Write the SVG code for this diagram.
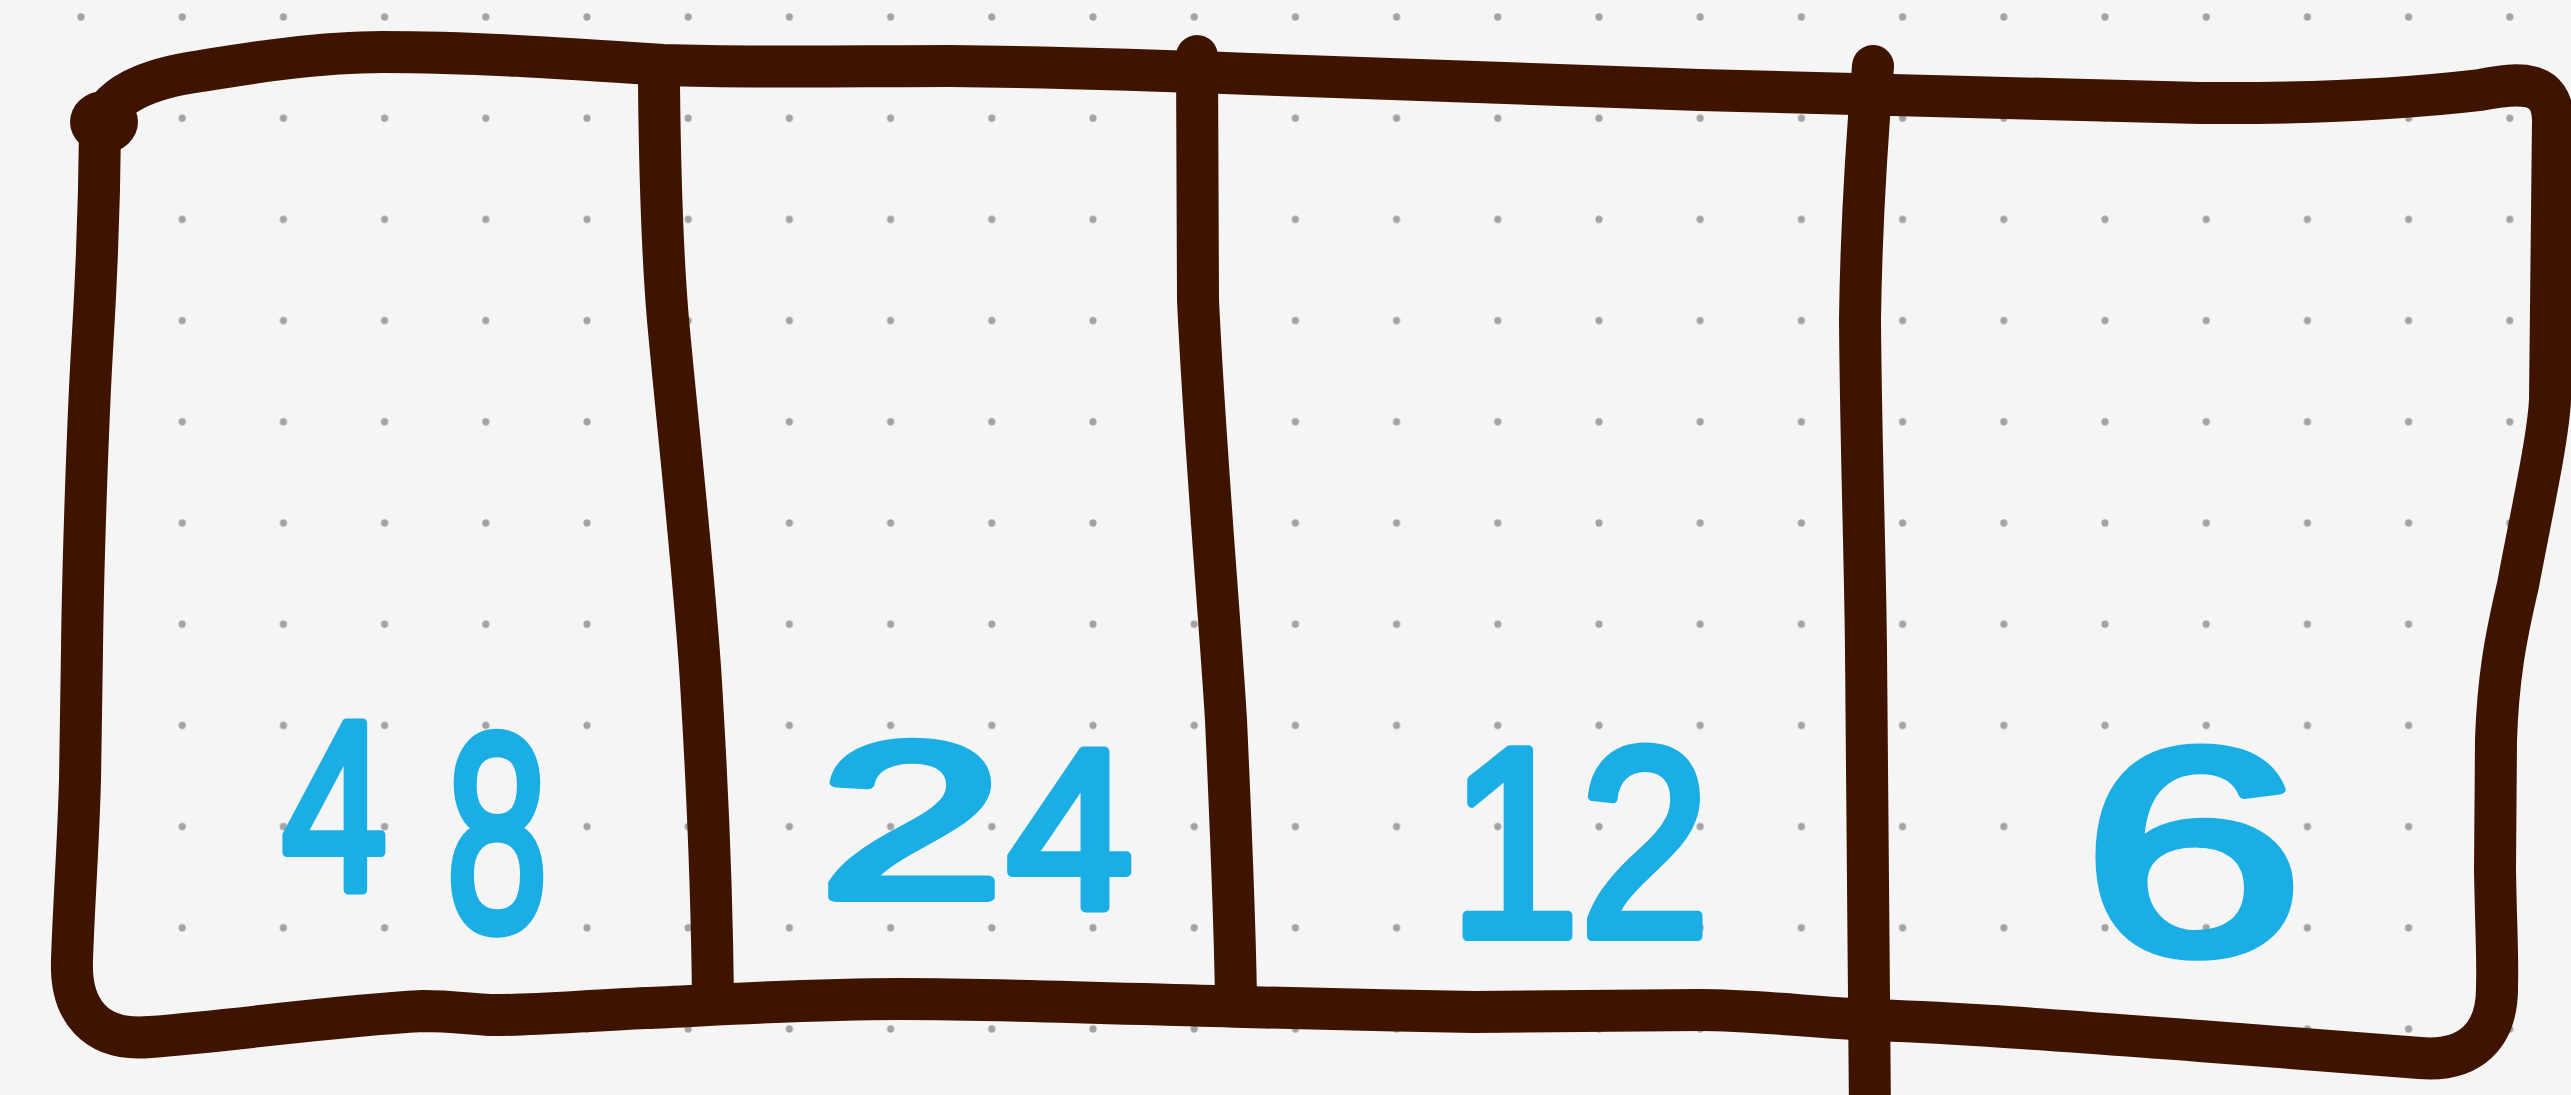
<svg xmlns="http://www.w3.org/2000/svg" width="2571" height="1095" viewBox="0 0 2571 1095">
  <defs>
    <pattern id="dots" patternUnits="userSpaceOnUse" x="30.4" y="-33.6" width="101.2" height="101.2">
      <circle cx="50.6" cy="50.6" r="3.6" fill="#a3a3a3"/>
    </pattern>
    <style>
      .ink { fill: none; stroke: #3e1300; stroke-width: 42px; stroke-linecap: round; stroke-linejoin: round; }
      .num { font-family: "Liberation Sans", Arial, sans-serif; fill: #1aaee5; stroke: #1aaee5; stroke-width: 10px; stroke-linejoin: round; }
    </style>
  </defs>

  <rect x="0" y="0" width="2571" height="1095" fill="#f5f5f5"/>
  <rect id="grid" x="0" y="0" width="2571" height="1095" fill="url(#dots)"/>

  <g id="outline">
    <path class="ink" d="M 100 130
      C 105 95, 150 78, 201 71
      C 250 63, 320 52, 383 52
      C 470 52, 560 58, 663 65
      C 760 68, 850 66, 950 66
      C 1050 67, 1150 70, 1250 74
      C 1350 78, 1500 84, 1700 90
      C 1850 93, 2050 100, 2200 103
      C 2330 104, 2420 97, 2480 90
      C 2520 82, 2552 80, 2553 120
      L 2550 400
      C 2548 440, 2530 520, 2518 585
      C 2505 640, 2498 680, 2496 740
      L 2495 870
      C 2496 930, 2498 960, 2497 985
      C 2498 1036, 2470 1062, 2420 1058
      C 2330 1051, 2250 1045, 2200 1041
      C 2050 1030, 1950 1022, 1867 1020
      C 1800 1016, 1750 1010, 1700 1010
      C 1600 1011, 1500 1012, 1474 1012
      C 1400 1011, 1300 1008, 1244 1007
      C 1100 1003, 1000 999, 900 999
      C 800 999, 700 1006, 646 1008
      C 580 1011, 520 1016, 490 1015
      C 470 1014, 450 1011, 423 1011
      C 330 1016, 240 1030, 150 1037
      C 95 1042, 70 1010, 72 960
      C 74 900, 78 850, 80 780
      L 82 650
      C 83 560, 88 420, 92 350
      C 95 300, 99 240, 100 130"/>
    <ellipse cx="104" cy="122" rx="34" ry="31" fill="#3e1300"/>
  </g>

  <g id="connectors">
    <path class="ink" d="M 659 85 C 660 180, 662 250, 668 320 C 680 450, 697 600, 702 700 C 708 800, 712 900, 713 1000"/>
    <path class="ink" d="M 1197 56 L 1198 300 C 1205 450, 1220 620, 1226 720 C 1231 830, 1235 930, 1236 1000"/>
    <path class="ink" d="M 1873 66 C 1866 150, 1861 240, 1860 320 C 1861 450, 1865 550, 1866 650 C 1868 800, 1870 950, 1870 1115"/>
  </g>

  <g id="cell-48">
    <text class="num"><tspan x="282" y="890" font-size="242" textLength="105" lengthAdjust="spacingAndGlyphs">4</tspan><tspan x="446" y="930" font-size="281" textLength="102" lengthAdjust="spacingAndGlyphs">8</tspan></text>
  </g>
  <g id="cell-24">
    <text class="num"><tspan x="819" y="897" font-size="221" textLength="185" lengthAdjust="spacingAndGlyphs">2</tspan><tspan x="1007" y="907" font-size="226" textLength="126" lengthAdjust="spacingAndGlyphs">4</tspan></text>
  </g>
  <g id="cell-12">
    <text class="num" x="1449" y="936" font-size="270" textLength="261" lengthAdjust="spacingAndGlyphs">12</text>
  </g>
  <g id="cell-6">
    <text class="num" x="2082" y="953" font-size="293" textLength="222" lengthAdjust="spacingAndGlyphs">6</text>
  </g>
</svg>
